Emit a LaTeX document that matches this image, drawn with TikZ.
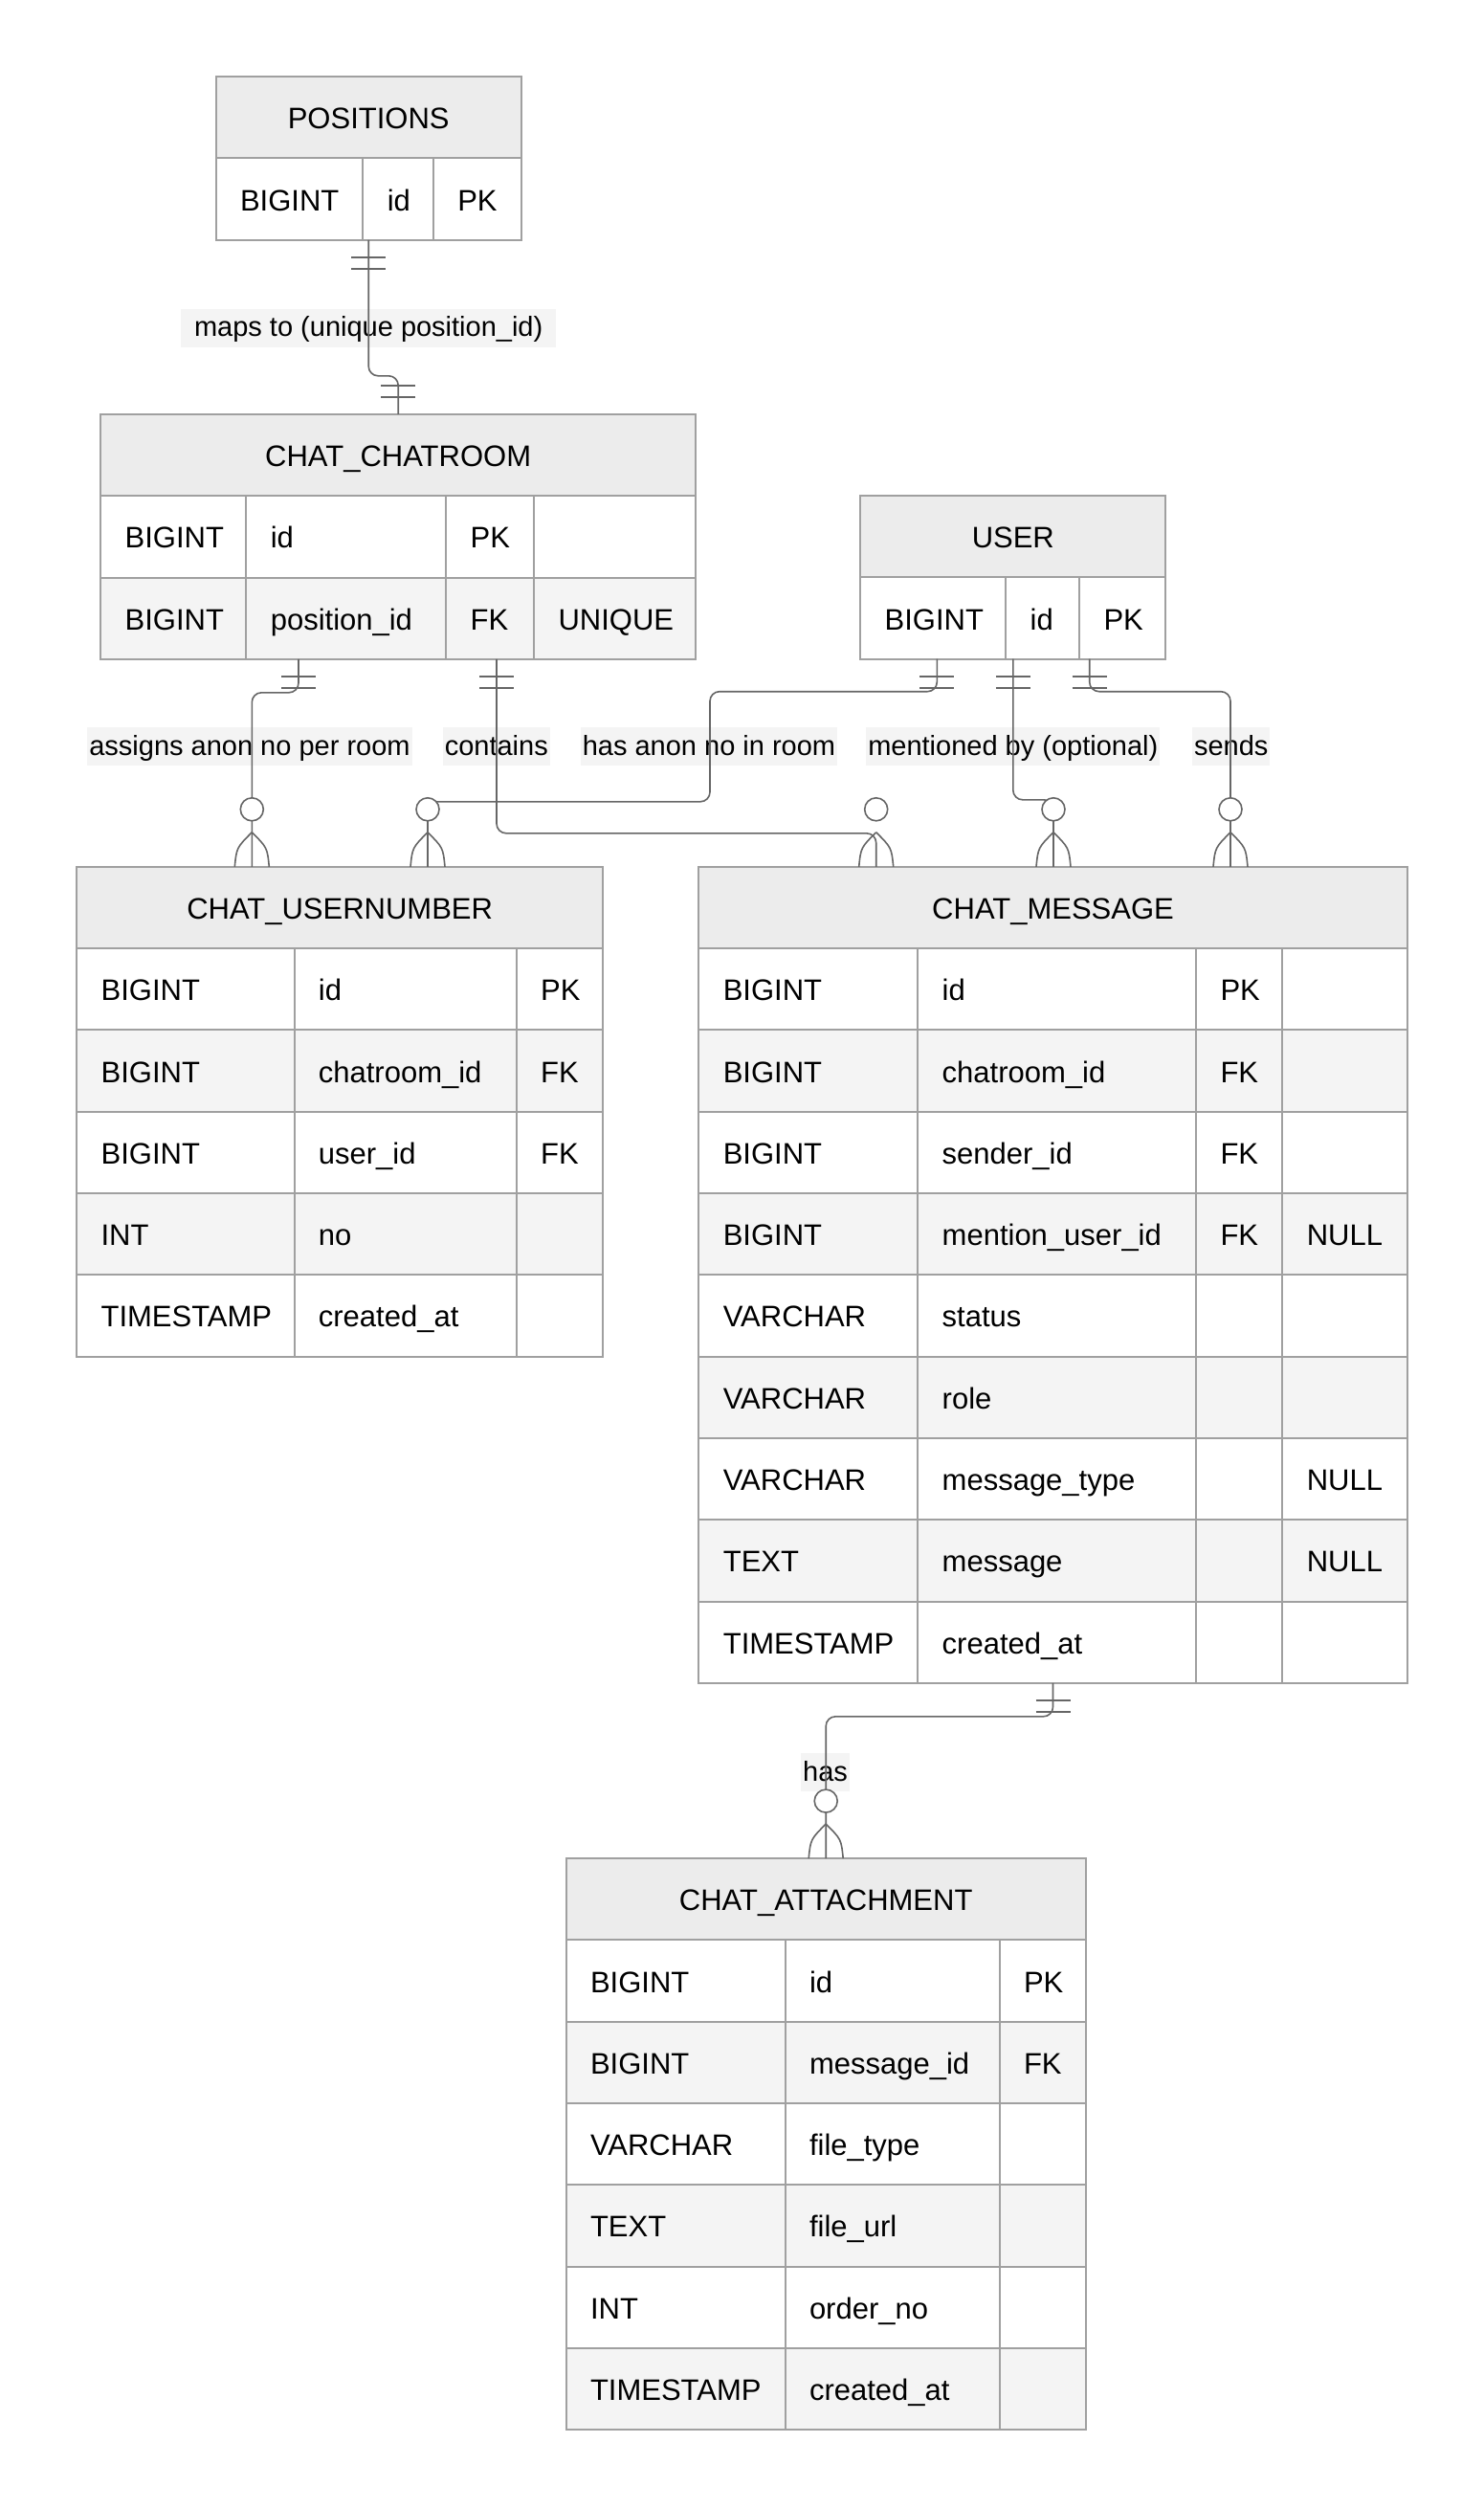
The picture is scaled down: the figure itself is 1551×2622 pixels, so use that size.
\documentclass[tikz,border=0pt]{standalone}
\usepackage{fontspec}
\setmainfont{Liberation Sans}
\usetikzlibrary{calc}
\definecolor{hdrgray}{HTML}{ECECEC}
\definecolor{rowgray}{HTML}{F4F4F4}
\definecolor{boxline}{HTML}{A0A0A0}
\definecolor{relline}{HTML}{666666}
\definecolor{lblgray}{HTML}{F4F4F4}

\begin{document}
\begin{tikzpicture}[x=0.5pt, y=-0.5pt,
    tabline/.style={boxline, line width=1pt},
    hdr/.style={font=\fontsize{15.5}{18}\selectfont, inner sep=0pt, text height=12pt, text depth=0pt},
    cell/.style={hdr, anchor=west},
    relstroke/.style={relline, line width=0.8pt},
    rel/.style={relstroke, rounded corners=5pt},
    lbl/.style={font=\fontsize{14.5}{17}\selectfont, fill=lblgray, inner xsep=1pt, inner ysep=3pt,
        text height=11.5pt, text depth=2.5pt},
    onlyone/.pic={\draw[relstroke] (-18,18) -- (18,18) (-18,30) -- (18,30);},
    zeromany/.pic={\draw[relstroke, fill=white] (0,-60) circle[radius=6pt];
        \draw[relstroke] (0,-36) .. controls (-16,-20) .. (-18,0) (0,-36) .. controls (16,-20) .. (18,0);}
]
\fill[white] (0,0) rectangle (1551,2622);
\useasboundingbox (0,0) rectangle (1551,2622);

% POSITIONS
\begin{scope}[shift={(225.6,80.2)}]
    \fill[hdrgray] (0,0) rectangle (319.2,85.3);
    \draw[tabline] (0,85.3) -- (319.2,85.3);
    \foreach \c in {153.8,227.3} \draw[tabline] (\c,85.3) -- (\c,170.6);
    \draw[tabline] (0,0) rectangle (319.2,170.6);
    \node[hdr] (pos) at (159.6,42.65) {POSITIONS};
    \node[cell] (pos-t1) at (25,127.95) {BIGINT};
    \node[cell] (pos-n1) at (178.8,127.95) {id};
    \node[cell] (pos-k1) at (252.3,127.95) {PK};
\end{scope}

% CHAT_CHATROOM
\begin{scope}[shift={(105.3,432.9)}]
    \fill[hdrgray] (0,0) rectangle (621.7,85.3);
    \fill[rowgray] (0,170.6) rectangle (621.7,255.9);
    \foreach \r in {1,2} \draw[tabline] (0,{85.3*\r}) -- (621.7,{85.3*\r});
    \foreach \c in {152.1,361,452.9} \draw[tabline] (\c,85.3) -- (\c,255.9);
    \draw[tabline] (0,0) rectangle (621.7,255.9);
    \node[hdr] (room) at (310.85,42.65) {CHAT\_CHATROOM};
    \foreach \t/\n/\k [count=\r] in {BIGINT/id/PK, BIGINT/position\_id/FK} {
        \node[cell] (room-t\r) at (25,{85.3*\r+42.65}) {\t};
        \node[cell] (room-n\r) at (177.1,{85.3*\r+42.65}) {\n};
        \node[cell] (room-k\r) at (386,{85.3*\r+42.65}) {\k};
    }
    \node[cell] (room-u2) at (477.9,213.25) {UNIQUE};
\end{scope}

% USER
\begin{scope}[shift={(899.2,518.1)}]
    \fill[hdrgray] (0,0) rectangle (319.2,85.3);
    \draw[tabline] (0,85.3) -- (319.2,85.3);
    \foreach \c in {152.1,228.9} \draw[tabline] (\c,85.3) -- (\c,170.6);
    \draw[tabline] (0,0) rectangle (319.2,170.6);
    \node[hdr] (user) at (159.6,42.65) {USER};
    \node[cell] (user-t1) at (25,127.95) {BIGINT};
    \node[cell] (user-n1) at (177.1,127.95) {id};
    \node[cell] (user-k1) at (253.9,127.95) {PK};
\end{scope}

% CHAT_USERNUMBER
\begin{scope}[shift={(80.2,905.8)}]
    \fill[hdrgray] (0,0) rectangle (549.9,85.3);
    \foreach \r in {2,4} \fill[rowgray] (0,{85.3*\r}) rectangle (549.9,{85.3*(\r+1)});
    \foreach \r in {1,...,5} \draw[tabline] (0,{85.3*\r}) -- (549.9,{85.3*\r});
    \foreach \c in {227.3,459.6} \draw[tabline] (\c,85.3) -- (\c,511.8);
    \draw[tabline] (0,0) rectangle (549.9,511.8);
    \node[hdr] (un) at (274.95,42.65) {CHAT\_USERNUMBER};
    \foreach \t/\n [count=\r] in {BIGINT/id, BIGINT/chatroom\_id, BIGINT/user\_id, INT/no, TIMESTAMP/created\_at} {
        \node[cell] (un-t\r) at (25,{85.3*\r+42.65}) {\t};
        \node[cell] (un-n\r) at (252.3,{85.3*\r+42.65}) {\n};
    }
    \foreach \k/\r in {PK/1, FK/2, FK/3} \node[cell] (un-k\r) at (484.6,{85.3*\r+42.65}) {\k};
\end{scope}

% CHAT_MESSAGE
\begin{scope}[shift={(730.4,905.8)}]
    \fill[hdrgray] (0,0) rectangle (740.3,85.3);
    \foreach \r in {2,4,6,8} \fill[rowgray] (0,{85.3*\r}) rectangle (740.3,{85.3*(\r+1)});
    \foreach \r in {1,...,9} \draw[tabline] (0,{85.3*\r}) -- (740.3,{85.3*\r});
    \foreach \c in {228.9,519.7,610} \draw[tabline] (\c,85.3) -- (\c,853);
    \draw[tabline] (0,0) rectangle (740.3,853);
    \node[hdr] (msg) at (370.15,42.65) {CHAT\_MESSAGE};
    \foreach \t/\n [count=\r] in {BIGINT/id, BIGINT/chatroom\_id, BIGINT/sender\_id, BIGINT/mention\_user\_id,
        VARCHAR/status, VARCHAR/role, VARCHAR/message\_type, TEXT/message, TIMESTAMP/created\_at} {
        \node[cell] (msg-t\r) at (25,{85.3*\r+42.65}) {\t};
        \node[cell] (msg-n\r) at (253.9,{85.3*\r+42.65}) {\n};
    }
    \foreach \k/\r in {PK/1, FK/2, FK/3, FK/4} \node[cell] (msg-k\r) at (544.7,{85.3*\r+42.65}) {\k};
    \foreach \r in {4,7,8} \node[cell] (msg-z\r) at (635,{85.3*\r+42.65}) {NULL};
\end{scope}

% CHAT_ATTACHMENT
\begin{scope}[shift={(591.6,1942.1)}]
    \fill[hdrgray] (0,0) rectangle (543.2,85.3);
    \foreach \r in {2,4,6} \fill[rowgray] (0,{85.3*\r}) rectangle (543.2,{85.3*(\r+1)});
    \foreach \r in {1,...,6} \draw[tabline] (0,{85.3*\r}) -- (543.2,{85.3*\r});
    \foreach \c in {229,453} \draw[tabline] (\c,85.3) -- (\c,597.1);
    \draw[tabline] (0,0) rectangle (543.2,597.1);
    \node[hdr] (att) at (271.6,42.65) {CHAT\_ATTACHMENT};
    \foreach \t/\n [count=\r] in {BIGINT/id, BIGINT/message\_id, VARCHAR/file\_type, TEXT/file\_url,
        INT/order\_no, TIMESTAMP/created\_at} {
        \node[cell] (att-t\r) at (25,{85.3*\r+42.65}) {\t};
        \node[cell] (att-n\r) at (254,{85.3*\r+42.65}) {\n};
    }
    \foreach \k/\r in {PK/1, FK/2} \node[cell] (att-k\r) at (478,{85.3*\r+42.65}) {\k};
\end{scope}

% labels under the lines
\node[lbl, inner xsep=7pt] (l-maps) at (385.2,342.7) {maps to (unique position\_id)};
\node[lbl] (l-assigns) at (261,780.4) {assigns anon no per room};
\node[lbl] (l-contains) at (518.8,780.4) {contains};
\node[lbl] (l-hasanon) at (741,780.4) {has anon no in room};
\node[lbl] (l-mention) at (1058.8,780.4) {mentioned by (optional)};
\node[lbl] (l-sends) at (1286.7,780.4) {sends};
\node[lbl] (l-has) at (862.6,1852) {has};

% relation ends
\coordinate (pos-out) at (385.2,250.8);
\coordinate (room-in) at (416.2,432.9);
\coordinate (room-out1) at (312,688.8);
\coordinate (room-out2) at (519,688.8);
\coordinate (user-out1) at (979.3,688.7);
\coordinate (user-out2) at (1058.8,688.7);
\coordinate (user-out3) at (1138.7,688.7);
\coordinate (un-in1) at (263.3,905.8);
\coordinate (un-in2) at (447,905.8);
\coordinate (msg-in1) at (915.7,905.8);
\coordinate (msg-in2) at (1101,905.8);
\coordinate (msg-in3) at (1286,905.8);
\coordinate (msg-out) at (1100.5,1758.8);
\coordinate (att-in) at (863.2,1942.1);

\draw[rel] (pos-out) -- ++(0,142) -| (room-in);
\draw[rel] (room-out1) -- ++(0,35) -| (un-in1);
\draw[rel] (user-out1) -- ++(0,34) -| ($(un-in2)+(295,-68)$) -| (un-in2);
\draw[rel] (room-out2) |- ($(msg-in1)+(0,-35)$) -- (msg-in1);
\draw[rel] (user-out2) |- ($(msg-in2)+(0,-70)$) -- (msg-in2);
\draw[rel] (user-out3) -- ++(0,34) -| (msg-in3);
\draw[rel] (msg-out) -- ++(0,35) -| (att-in);

\pic at (pos-out) {onlyone};
\pic[rotate=180] at (room-in) {onlyone};
\foreach \p in {room-out1,room-out2,user-out1,user-out2,user-out3,msg-out} \pic at (\p) {onlyone};
\foreach \p in {un-in1,un-in2,msg-in1,msg-in2,msg-in3,att-in} \pic at (\p) {zeromany};
\end{tikzpicture}
\end{document}
